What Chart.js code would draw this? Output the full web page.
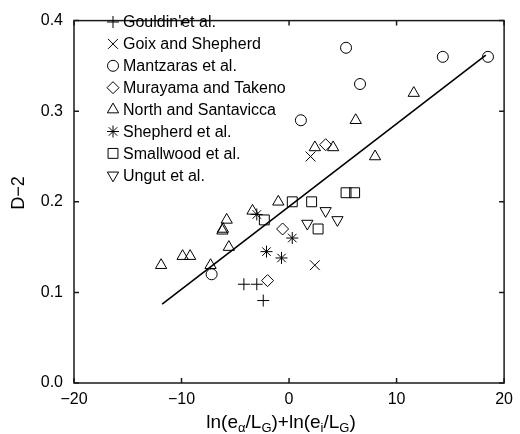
<!DOCTYPE html>
<html>
<head>
<meta charset="utf-8">
<script src="https://cdn.jsdelivr.net/npm/chart.js@4.4.0/dist/chart.umd.min.js"></script>
<style>
  html, body { margin: 0; padding: 0; background: #fff; }
  #grafico { display: block; }
</style>
</head>
<body>
<canvas id="grafico" width="520" height="434"></canvas>
<script>
// valores
const seriesNames = ["Gouldin'et al.", 'Goix and Shepherd', 'Mantzaras et al.', 'Murayama and Takeno',
    'North and Santavicca', 'Shepherd et al.', 'Smallwood et al.', 'Ungut et al.'];

const gouldinX = [-4.2, -3.0, -2.4];
const gouldinY = [0.109, 0.109, 0.091];
const goixX = [2.0, 2.4];
const goixY = [0.25, 0.13];
const mantzarasX = [-7.2, 1.1, 5.3, 6.6, 14.3, 18.5];
const mantzarasY = [0.12, 0.29, 0.37, 0.33, 0.36, 0.36];
const murayamaX = [-2.0, -0.6, 3.4];
const murayamaY = [0.113, 0.17, 0.263];
const northX = [-11.9, -9.9, -9.2, -7.3, -6.2, -6.15, -5.8, -5.6, -3.4, -1.0, 2.4, 4.1, 6.2, 8.0, 11.6];
const northY = [0.13, 0.14, 0.14, 0.13, 0.168, 0.17, 0.18, 0.15, 0.19, 0.20, 0.26, 0.26, 0.29, 0.25, 0.32];
const shepherdX = [-3.0, -2.1, -0.7, 0.3];
const shepherdY = [0.186, 0.145, 0.138, 0.16];
const smallwoodX = [-2.3, 0.3, 2.1, 2.7, 5.3, 6.1];
const smallwoodY = [0.18, 0.20, 0.20, 0.17, 0.21, 0.21];
const ungutX = [1.7, 3.4, 4.5];
const ungutY = [0.176, 0.19, 0.18];

const fitX = [-11.8, 18.3];
const fitY = [0.087, 0.362];

const xTicks = [-20, -10, 0, 10, 20];
const yTicks = [0.0, 0.1, 0.2, 0.3, 0.4];

const fonte = '"Liberation Sans", Arial, sans-serif';

// estilo de cada marcador
const marcadores = [
    { pointStyle: 'cross', radius: 6, rotation: 0 },
    { pointStyle: 'crossRot', radius: 7, rotation: 0 },
    { pointStyle: 'circle', radius: 5.5, rotation: 0 },
    { pointStyle: 'rectRot', radius: 6, rotation: 0 },
    { pointStyle: 'triangle', radius: 6.5, rotation: 0 },
    { pointStyle: 'star', radius: 6, rotation: 0 },
    { pointStyle: 'rect', radius: 7, rotation: 0 },
    { pointStyle: 'triangle', radius: 6.5, rotation: 180 }
];

const todasX = [gouldinX, goixX, mantzarasX, murayamaX, northX, shepherdX, smallwoodX, ungutX];
const todasY = [gouldinY, goixY, mantzarasY, murayamaY, northY, shepherdY, smallwoodY, ungutY];

function pontos(xs, ys) {
    return xs.map((x, i) => ({ x: x, y: ys[i] }));
}

const datasets = seriesNames.map((nome, i) => ({
    label: nome,
    data: pontos(todasX[i], todasY[i]),
    pointStyle: marcadores[i].pointStyle,
    pointRadius: marcadores[i].radius,
    pointRotation: marcadores[i].rotation,
    pointBorderColor: '#000',
    pointBackgroundColor: 'rgba(0,0,0,0)',
    pointBorderWidth: 1,
    showLine: false
}));

datasets.push({
    label: 'ajuste',
    data: pontos(fitX, fitY),
    showLine: true,
    borderColor: '#000',
    borderWidth: 1.6,
    pointRadius: 0,
    fill: false
});

const moldura = {
    id: 'moldura',
    afterDraw(chart) {
        const ctx = chart.ctx;
        const area = chart.chartArea;
        const sx = chart.scales.x;
        const sy = chart.scales.y;
        ctx.save();
        ctx.strokeStyle = '#1a1a1a';
        ctx.lineWidth = 1.5;
        ctx.strokeRect(area.left, area.top, area.right - area.left, area.bottom - area.top);

        // marcas para dentro nos quatro lados
        const tam = 5;
        ctx.beginPath();
        xTicks.forEach(v => {
            const px = sx.getPixelForValue(v);
            ctx.moveTo(px, area.bottom);
            ctx.lineTo(px, area.bottom - tam);
            ctx.moveTo(px, area.top);
            ctx.lineTo(px, area.top + tam);
        });
        yTicks.forEach(v => {
            const py = sy.getPixelForValue(v);
            ctx.moveTo(area.left, py);
            ctx.lineTo(area.left + tam, py);
            ctx.moveTo(area.right, py);
            ctx.lineTo(area.right - tam, py);
        });
        ctx.stroke();

        // legenda
        ctx.fillStyle = '#000';
        ctx.font = '16px ' + fonte;
        ctx.textBaseline = 'middle';
        ctx.textAlign = 'left';
        seriesNames.forEach((nome, i) => {
            const y = 22 + i * 21.9;
            ctx.save();
            ctx.strokeStyle = '#000';
            ctx.fillStyle = 'rgba(0,0,0,0)';
            ctx.lineWidth = 1;
            const m = marcadores[i];
            Chart.helpers.drawPoint(ctx, {
                pointStyle: m.pointStyle,
                radius: m.radius,
                rotation: m.rotation,
                borderWidth: 1
            }, 113, y);
            ctx.restore();
            ctx.fillText(nome, 123, y + 1);
        });

        // título do eixo y
        ctx.save();
        ctx.translate(19, 193);
        ctx.rotate(-Math.PI / 2);
        ctx.textAlign = 'center';
        ctx.textBaseline = 'middle';
        ctx.font = '18px ' + fonte;
        ctx.fillText('D\u22122', 0, 0);
        ctx.restore();

        // título do eixo x com índices
        const partes = [
            ['ln(e', false], ['\u03b1', true], ['/L', false], ['G', true],
            [')+ln(e', false], ['i', true], ['/L', false], ['G', true], [')', false]
        ];
        const grande = '19px ' + fonte;
        const pequeno = '13px ' + fonte;
        let largura = 0;
        partes.forEach(p => {
            ctx.font = p[1] ? pequeno : grande;
            largura += ctx.measureText(p[0]).width;
        });
        let x = (area.left + area.right) / 2 - largura / 2 - 8;
        const base = 428;
        ctx.textBaseline = 'alphabetic';
        partes.forEach(p => {
            ctx.font = p[1] ? pequeno : grande;
            ctx.fillText(p[0], x, p[1] ? base + 4 : base);
            x += ctx.measureText(p[0]).width;
        });
        ctx.restore();
    }
};

const ctxGrafico = document.getElementById('grafico');

new Chart(ctxGrafico.getContext('2d'), {
    type: 'scatter',
    data: { datasets: datasets },
    options: {
        responsive: false,
        animation: false,
        layout: { padding: { left: 0, right: 13, top: 15, bottom: 0 } },
        plugins: {
            legend: { display: false },
            tooltip: { enabled: false }
        },
        scales: {
            x: {
                type: 'linear',
                min: -20,
                max: 20,
                afterBuildTicks: scale => { scale.ticks = xTicks.map(v => ({ value: v })); },
                afterFit: scale => { scale.height = 51; },
                grid: { display: false, drawTicks: false },
                border: { display: false },
                ticks: {
                    padding: 7,
                    color: '#000',
                    font: { family: fonte, size: 16 },
                    maxRotation: 0,
                    callback: v => (v < 0 ? '\u2212' + Math.abs(v) : String(v))
                }
            },
            y: {
                type: 'linear',
                min: 0,
                max: 0.4,
                afterBuildTicks: scale => { scale.ticks = yTicks.map(v => ({ value: v })); },
                afterFit: scale => { scale.width = 74; },
                grid: { display: false, drawTicks: false },
                border: { display: false },
                ticks: {
                    padding: 11,
                    color: '#000',
                    font: { family: fonte, size: 16 },
                    callback: v => Number(v).toFixed(1)
                }
            }
        }
    },
    plugins: [moldura]
});
</script>
</body>
</html>
